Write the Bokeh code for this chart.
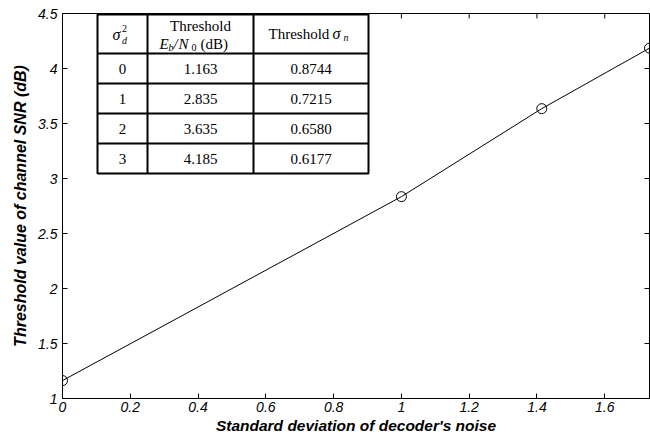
from bokeh.plotting import figure
from bokeh.models import FixedTicker, Range1d
from bokeh.core.properties import value
from bokeh.embed import file_html
from bokeh.resources import INLINE

# ---------------- data ----------------
sigma_d2_text = ["0", "1", "2", "3"]
decoder_noise_std = [0.0, 1.0, 1.4142, 1.7321]
threshold_ebn0_db = [1.163, 2.835, 3.635, 4.185]
threshold_ebn0_text = ["1.163", "2.835", "3.635", "4.185"]
threshold_sigma_n_text = ["0.8744", "0.7215", "0.6580", "0.6177"]
x_ticks = [0, 0.2, 0.4, 0.6, 0.8, 1.0, 1.2, 1.4, 1.6]
x_tick_labels = ["0", "0.2", "0.4", "0.6", "0.8", "1", "1.2", "1.4", "1.6"]
y_ticks = [1, 1.5, 2, 2.5, 3, 3.5, 4, 4.5]
y_tick_labels = ["1", "1.5", "2", "2.5", "3", "3.5", "4", "4.5"]
x_title = "Standard deviation of decoder's noise"
y_title = "Threshold value of channel SNR (dB)"

# ---------------- layout ----------------
X0, X1 = 0.0, 1.7321
Y0, Y1 = 1.0, 4.5
W, H = 650, 441
BL, BR, BT, BB = 62, 1, 13, 43
FL, FR = BL, W - BR
FT, FB = BT, H - BB

def tx(px):
    return X0 + (px - FL) / (FR - FL) * (X1 - X0)

def ty(py):
    return Y1 - (py - FT) / (FB - FT) * (Y1 - Y0)

SERIF = value("Liberation Serif")

p = figure(width=W, height=H, x_range=Range1d(X0, X1), y_range=Range1d(Y0, Y1),
           output_backend="svg", toolbar_location=None,
           min_border_left=BL, min_border_right=BR, min_border_top=BT, min_border_bottom=BB,
           background_fill_color="white", border_fill_color="white")
p.xgrid.visible = False
p.ygrid.visible = False
p.outline_line_color = "black"
p.outline_line_width = 1

def style_axis(ax, ticks, labels):
    ax.ticker = FixedTicker(ticks=ticks)
    ax.major_label_overrides = {t: l for t, l in zip(ticks, labels)}
    ax.major_tick_in = 5
    ax.major_tick_out = 0
    ax.minor_tick_line_color = None
    ax.axis_line_color = "black"
    ax.major_tick_line_color = "black"
    ax.major_label_text_font = "Liberation Sans"
    ax.major_label_text_font_style = "italic"
    ax.major_label_text_color = "black"
    ax.major_label_text_font_size = "14px"
    ax.axis_label_text_font = "Liberation Sans"
    ax.axis_label_text_font_style = "bold italic"
    ax.axis_label_text_color = "black"

style_axis(p.xaxis[0], x_ticks, x_tick_labels)
style_axis(p.yaxis[0], y_ticks, y_tick_labels)
p.xaxis[0].axis_label = x_title
p.yaxis[0].axis_label = y_title
p.xaxis[0].axis_label_text_font_size = "15.5px"
p.yaxis[0].axis_label_text_font_size = "16px"
p.xaxis[0].major_label_standoff = 3
p.yaxis[0].major_label_standoff = 5
p.xaxis[0].axis_label_standoff = 2
p.yaxis[0].axis_label_standoff = 6

# ticks on the top and right edges of the box (drawn inward)
tick_dx = 5 / (FR - FL) * (X1 - X0)
tick_dy = 5 / (FB - FT) * (Y1 - Y0)
p.segment(x0=x_ticks, y0=[Y1] * len(x_ticks), x1=x_ticks, y1=[Y1 - tick_dy] * len(x_ticks),
          line_color="black", line_width=1)
p.segment(x0=[X1] * len(y_ticks), y0=y_ticks, x1=[X1 - tick_dx] * len(y_ticks), y1=y_ticks,
          line_color="black", line_width=1)

# ---------------- curve ----------------
p.line(decoder_noise_std, threshold_ebn0_db, line_color="black", line_width=1)
p.scatter(decoder_noise_std, threshold_ebn0_db, marker="circle", size=10,
          fill_color=None, line_color="black", line_width=1)

# ---------------- inset table ----------------
cols_px = [97, 147, 253, 368]
rows_px = [14, 53, 83, 113, 143, 173]
p.quad(left=[tx(cols_px[0])], right=[tx(cols_px[-1])], top=[ty(rows_px[0])],
       bottom=[ty(rows_px[-1])], fill_color="white", line_color="black", line_width=2)
x0s, y0s, x1s, y1s = [], [], [], []
for c in cols_px[1:-1]:
    x0s.append(tx(c)); x1s.append(tx(c)); y0s.append(ty(rows_px[0])); y1s.append(ty(rows_px[-1]))
for r in rows_px[1:-1]:
    x0s.append(tx(cols_px[0])); x1s.append(tx(cols_px[-1])); y0s.append(ty(r)); y1s.append(ty(r))
p.segment(x0=x0s, y0=y0s, x1=x1s, y1=y1s, line_color="black", line_width=2)

FS = 15
col_c = [(cols_px[i] + cols_px[i + 1]) / 2 for i in range(3)]
row_c = [(rows_px[i] + rows_px[i + 1]) / 2 for i in range(1, len(rows_px) - 1)]
for ci, col_text in enumerate([sigma_d2_text, threshold_ebn0_text, threshold_sigma_n_text]):
    p.text(x=[tx(col_c[ci])] * len(col_text), y=[ty(r) for r in row_c], text=col_text,
           text_font=SERIF, text_font_size=value(f"{FS}px"), text_color="black",
           text_align="center", text_baseline="middle")

def piece(px, py, txt, size, italic, align="left"):
    p.text(x=[tx(px)], y=[ty(py)], text=[txt], text_font=SERIF,
           text_font_size=value(f"{size}px"), text_color="black",
           text_font_style="italic" if italic else "normal",
           text_align=align, text_baseline="middle")

# header col 1: sigma_d^2
piece(116, 34, "σ", FS + 1, True, "center")
piece(124, 28, "2", 10, False, "center")
piece(124, 40, "d", 10, True, "center")

# header col 2: Threshold / E_b/N_0 (dB)
piece(col_c[1], 25, "Threshold", FS, False, "center")
for t, xs, s, it, yy in [("E", 159, FS, True, 43), ("b", 168, 10, True, 47), ("/", 173, FS, True, 43),
                         ("N", 178, FS, True, 43), ("0", 191, 10, False, 47), ("(dB)", 200, FS, False, 43)]:
    piece(xs, yy, t, s, it)

# header col 3: Threshold sigma_n
piece(268, 33, "Threshold", FS, False)
piece(332, 33, "σ", FS + 1, True)
piece(343, 37, "n", 10, True)

open("out.html", "w").write(file_html(p, INLINE))
